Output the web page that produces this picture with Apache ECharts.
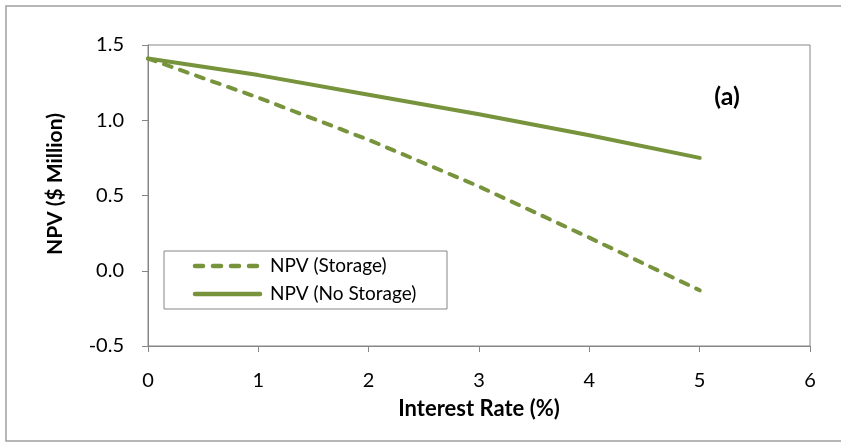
<!DOCTYPE html>
<html>
<head>
<meta charset="utf-8">
<script src="https://cdn.jsdelivr.net/npm/echarts@6/dist/echarts.min.js"></script>
<style>
  html, body { margin: 0; padding: 0; background: #fff; }
  #chart { width: 841px; height: 444px; }
</style>
</head>
<body>
<div id="chart"></div>
<script>
// Interest rate (%) on the x axis
const interestRates = [0, 1, 2, 3, 4, 5];
// Net present value, $ million
const npvStorage = [1.41, 1.15, 0.87, 0.56, 0.22, -0.13];
const npvNoStorage = [1.41, 1.30, 1.17, 1.04, 0.90, 0.75];
const seriesNames = ['NPV (Storage)', 'NPV (No Storage)'];

const GREEN = '#77933C';
const AXIS_GREY = '#868686';
const FONT = 'Lato, "Open Sans", sans-serif';
const DASH = [8, 9];

const pairs = (xs, ys) => xs.map((x, i) => [x, ys[i]]);

// legend key: a line sample followed by the series name, one row per series
const legendRow = (name, y, dashed) => [
  { type: 'line', shape: { x1: 195, y1: y, x2: 260, y2: y },
    style: { stroke: GREEN, lineWidth: 4.5, lineCap: 'round', lineDash: dashed ? [8, 10] : null },
    z: 12, silent: true },
  { type: 'text', x: 270, y: y,
    style: { text: name, x: 0, y: 0, align: 'left', verticalAlign: 'middle',
             font: '19px ' + FONT, fill: '#000' }, z: 12, silent: true }
];

const chart = echarts.init(document.getElementById('chart'), null, { renderer: 'canvas' });

chart.setOption({
  backgroundColor: '#fff',
  animation: false,
  textStyle: { fontFamily: FONT },
  grid: { left: 148, right: 31, top: 45, bottom: 98, show: true, borderColor: AXIS_GREY, borderWidth: 1 },
  xAxis: {
    type: 'value',
    min: 0, max: 6, interval: 1,
    axisLine: { show: true, onZero: false, lineStyle: { color: AXIS_GREY, width: 1 } },
    axisTick: { show: true, inside: false, length: 6, lineStyle: { color: AXIS_GREY } },
    axisLabel: { margin: 25, fontSize: 20, color: '#000', fontFamily: FONT },
    splitLine: { show: false }
  },
  yAxis: {
    type: 'value',
    min: -0.5, max: 1.5, interval: 0.5,
    axisLine: { show: true, onZero: false, lineStyle: { color: AXIS_GREY, width: 1 } },
    axisTick: { show: true, inside: false, length: 6, lineStyle: { color: AXIS_GREY } },
    axisLabel: { margin: 24, fontSize: 20, color: '#000', fontFamily: FONT,
                 formatter: v => v.toFixed(1) },
    splitLine: { show: false }
  },
  graphic: [
    // outer chart frame
    { type: 'rect', x: 6, y: 6, shape: { width: 860, height: 435 },
      style: { fill: 'none', stroke: '#A0A0A0', lineWidth: 1.5 }, silent: true, z: 1 },
    // legend frame
    { type: 'rect', x: 164, y: 251, shape: { width: 283, height: 58 },
      style: { fill: '#fff', stroke: AXIS_GREY, lineWidth: 1 }, z: 11, silent: true },
    ...legendRow(seriesNames[0], 266, true),
    ...legendRow(seriesNames[1], 294, false),
    // axis titles and panel tag
    { type: 'text', x: 479, y: 409,
      style: { text: 'Interest Rate (%)', x: 0, y: 0, align: 'center', verticalAlign: 'middle',
               font: 'bold 22px ' + FONT, fill: '#000' }, z: 10 },
    { type: 'text', rotation: Math.PI / 2, x: 55, y: 184,
      style: { text: 'NPV ($ Million)', x: 0, y: 0, align: 'center', verticalAlign: 'middle',
               font: 'bold 21px ' + FONT, fill: '#000' }, z: 10 },
    { type: 'text', x: 727, y: 97,
      style: { text: '(a)', x: 0, y: 0, align: 'center', verticalAlign: 'middle',
               font: 'bold 25px ' + FONT, fill: '#000' }, z: 10 }
  ],
  series: [
    {
      name: seriesNames[0],
      type: 'line',
      symbol: 'none',
      data: pairs(interestRates, npvStorage),
      lineStyle: { color: GREEN, width: 4, type: DASH, cap: 'round' },
      itemStyle: { color: GREEN },
      z: 3
    },
    {
      name: seriesNames[1],
      type: 'line',
      symbol: 'none',
      data: pairs(interestRates, npvNoStorage),
      lineStyle: { color: GREEN, width: 4, type: 'solid', cap: 'round' },
      itemStyle: { color: GREEN },
      z: 3
    }
  ]
});
</script>
</body>
</html>
